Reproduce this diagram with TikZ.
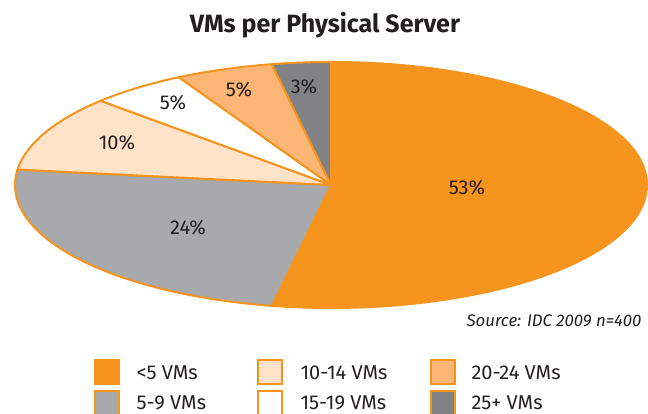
\documentclass[tikz,border=0pt]{standalone}
\usepackage{fontspec}
\setmainfont{Fira Sans}
\definecolor{vmorange}{HTML}{F7941D}
\definecolor{vmgray}{HTML}{A7A9AC}
\definecolor{vmpeach}{HTML}{FEE3C8}
\definecolor{vmlight}{HTML}{FBB574}
\definecolor{vmdark}{HTML}{808285}
\definecolor{vmtext}{HTML}{231F20}
\begin{document}
\begin{tikzpicture}[x=1pt,y=1pt,
    slice/.style={draw=vmorange, line width=2pt, line join=round},
    pct/.style={font=\fontsize{20}{22}\selectfont, text=vmtext},
    key/.style={draw=vmorange, line width=2pt, minimum size=24pt, inner sep=0pt},
    keylabel/.style={anchor=base west, font=\fontsize{20}{22}\selectfont, text=vmtext}]
    \useasboundingbox (0,0) rectangle (648,414);
    \node[anchor=base, font=\bfseries\fontsize{25}{28}\selectfont, text=vmtext] (title) at (325,381) {VMs per Physical Server};
    \coordinate (c) at (331,229);
    % slices, clockwise from the top
    \filldraw[slice, fill=vmorange] (c) -- +(90:316 and 123) arc[start angle=90, end angle=-100.8, x radius=316, y radius=123] -- cycle;
    \filldraw[slice, fill=vmgray] (c) -- +(-100.8:316 and 123) arc[start angle=-100.8, end angle=-187.2, x radius=316, y radius=123] -- cycle;
    \filldraw[slice, fill=vmpeach] (c) -- +(172.8:316 and 123) arc[start angle=172.8, end angle=136.8, x radius=316, y radius=123] -- cycle;
    \filldraw[slice, fill=white] (c) -- +(136.8:316 and 123) arc[start angle=136.8, end angle=118.8, x radius=316, y radius=123] -- cycle;
    \filldraw[slice, fill=vmlight] (c) -- +(118.8:316 and 123) arc[start angle=118.8, end angle=100.8, x radius=316, y radius=123] -- cycle;
    \filldraw[slice, fill=vmdark] (c) -- +(100.8:316 and 123) arc[start angle=100.8, end angle=90, x radius=316, y radius=123] -- cycle;
    \node[pct] (p53) at (467,226) {53\%};
    \node[pct] (p24) at (188,186) {24\%};
    \node[pct] (p10) at (117,271) {10\%};
    \node[pct] (p5a) at (173,311) {5\%};
    \node[pct] (p5b) at (239,324) {5\%};
    \node[pct] (p3) at (304,327) {3\%};
    \node[anchor=base east, font=\itshape\fontsize{16.8}{18}\selectfont, text=vmtext] (source) at (645,87) {Source: IDC 2009 n=400};
    % legend
    \node[key, fill=vmorange] (k1) at (106.5,42) {};
    \node[key, fill=vmgray] (k2) at (106.5,11) {};
    \node[key, fill=vmpeach] (k3) at (270,42) {};
    \node[key, fill=white] (k4) at (270,11) {};
    \node[key, fill=vmlight] (k5) at (443,42) {};
    \node[key, fill=vmdark] (k6) at (443,11) {};
    \node[keylabel] (l1) at (133,34) {<5 VMs};
    \node[keylabel] (l2) at (133,4.5) {5-9 VMs};
    \node[keylabel] (l3) at (297,34) {10-14 VMs};
    \node[keylabel] (l4) at (297,4.5) {15-19 VMs};
    \node[keylabel] (l5) at (468,34) {20-24 VMs};
    \node[keylabel] (l6) at (468,4.5) {25+ VMs};
\end{tikzpicture}
\end{document}
